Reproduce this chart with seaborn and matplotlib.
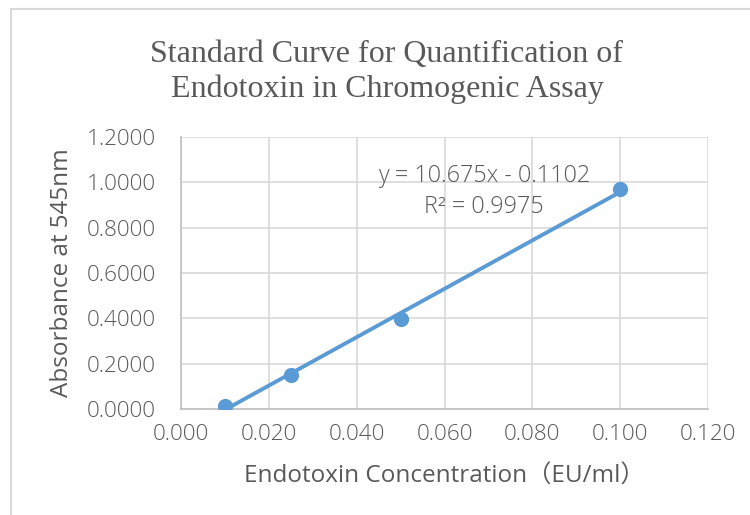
import matplotlib.pyplot as plt
import seaborn as sns
import pandas as pd
from matplotlib.lines import Line2D

# standard curve data
conc = [0.010, 0.025, 0.050, 0.100]
absorbance = [0.014, 0.150, 0.396, 0.970]
slope, intercept, r2 = 10.675, -0.1102, 0.9975

x_ticks = [0.000, 0.020, 0.040, 0.060, 0.080, 0.100, 0.120]
y_ticks = [0.0, 0.2, 0.4, 0.6, 0.8, 1.0, 1.2]

df = pd.DataFrame({"conc": conc, "abs": absorbance})
line_df = pd.DataFrame({"conc": [min(conc), max(conc)]})
line_df["abs"] = slope * line_df["conc"] + intercept

blue = "#5B9BD5"
grey_txt = "#595959"
grid_c = "#D9D9D9"

sns.set_style("white")
plt.rcParams['font.family'] = ['Open Sans', 'Noto Sans CJK SC', 'DejaVu Sans']
plt.rcParams['font.weight'] = 'light'

fig = plt.figure(figsize=(7.5, 5.15), dpi=100)
ax = fig.add_axes([181 / 750, 1 - 409 / 515, 527 / 750, 272 / 515])

sns.lineplot(data=line_df, x="conc", y="abs", ax=ax, color=blue, linewidth=2.8, zorder=3)
sns.scatterplot(data=df, x="conc", y="abs", ax=ax, color=blue, s=120, edgecolor=blue,
                linewidth=0, zorder=4)

ax.set_xlim(0, 0.12)
ax.set_ylim(0, 1.2)
ax.set_xticks(x_ticks)
ax.set_yticks(y_ticks)
ax.set_xticklabels([f"{v:.3f}" for v in x_ticks])
ax.set_yticklabels([f"{v:.4f}" for v in y_ticks])
ax.tick_params(axis="both", length=0, labelsize=16.2, colors=grey_txt)
ax.tick_params(axis="x", pad=11)
ax.tick_params(axis="y", pad=18)
ax.grid(True, color=grid_c, linewidth=1.2)
ax.set_axisbelow(True)
for s in ["top", "right"]:
    ax.spines[s].set_visible(False)
for s in ["left", "bottom"]:
    ax.spines[s].set_color("#BFBFBF")
    ax.spines[s].set_linewidth(1.2)

ax.set_xlabel("Endotoxin Concentration（EU/ml）", fontsize=17.5, color=grey_txt, labelpad=14)
ax.set_ylabel("Absorbance at 545nm", fontsize=17.5, color=grey_txt, labelpad=9)

ax.text(0.069, 1.028, f"y = {slope}x - {abs(intercept)}", ha="center", va="center",
        fontsize=16.8, color=grey_txt)
ax.text(0.069, 0.891, f"R² = {r2}", ha="center", va="center",
        fontsize=16.8, color=grey_txt)

fig.text(387 / 750, 1 - 62 / 515, "Standard Curve for Quantification of", ha="center",
         va="baseline", fontsize=23, color=grey_txt, family="Liberation Serif",
         weight="normal")
fig.text(387 / 750, 1 - 97 / 515, "Endotoxin in Chromogenic Assay", ha="center",
         va="baseline", fontsize=23, color=grey_txt, family="Liberation Serif",
         weight="normal")

# chart frame (top and left edges visible)
fig.add_artist(Line2D([11 / 750, 1], [1 - 9 / 515, 1 - 9 / 515], transform=fig.transFigure,
                      color="#D9D9D9", linewidth=1.5))
fig.add_artist(Line2D([11 / 750, 11 / 750], [0, 1 - 9 / 515], transform=fig.transFigure,
                      color="#D9D9D9", linewidth=1.5))

fig.savefig("out.png", dpi=100)
